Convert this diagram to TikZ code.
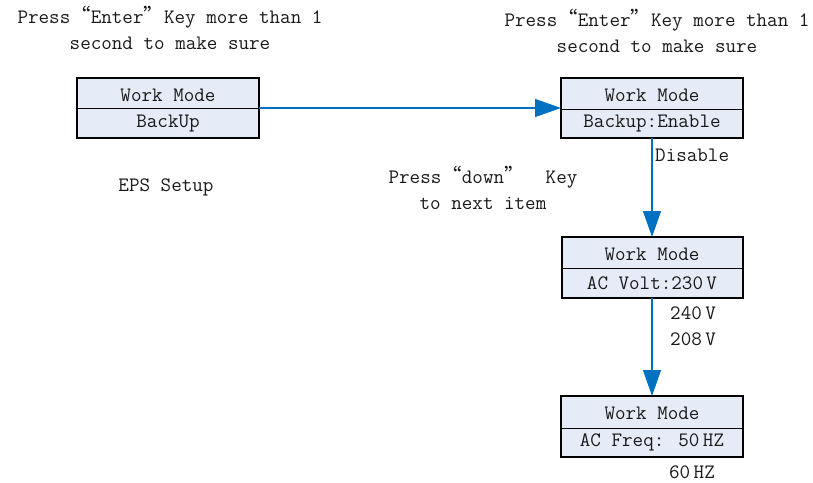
\documentclass[tikz,border=0pt]{standalone}
\usepackage{fontspec}
\newfontfamily\cjkq{Noto Sans CJK SC}
\usetikzlibrary{arrows.meta}
\definecolor{boxfill}{RGB}{230,236,247}
\definecolor{arrowblue}{RGB}{0,112,192}
\definecolor{txt}{RGB}{25,25,25}
\newcommand{\myLq}{{\cjkq “}}
\newcommand{\myRq}{{\cjkq ”}}
\begin{document}
\begin{tikzpicture}[x=1pt,y=-1pt,
  every node/.style={font=\fontsize{20.5}{26}\selectfont\ttfamily, text=txt, inner sep=0pt},
  panel/.style={draw=black, line width=1.6pt, fill=boxfill},
  divider/.style={draw=black, line width=0.9pt},
  flow/.style={draw=arrowblue, line width=1.3pt, -{Triangle[length=26pt,width=18pt]}},
  note/.style={align=center}
]
\useasboundingbox (0,0) rectangle (813,482);

% boxes
\path[panel] (77,78) rectangle (259,138);
\draw[divider] (77,108) -- (259,108);
\node (b1t) at (168,95) {Work Mode};
\node (b1b) at (168,124) {BackUp};
\coordinate (b1r) at (259,108);

\path[panel] (561,78) rectangle (743,138);
\draw[divider] (561,109) -- (743,109);
\node (b2t) at (652,95) {Work Mode};
\node (b2b) at (652,124) {Backup:Enable};
\coordinate (b2l) at (561,108);
\coordinate (b2s) at (652,138);

\path[panel] (562,237) rectangle (743,298);
\draw[divider] (562,268) -- (743,268);
\node (b3t) at (652,254) {Work Mode};
\node (b3b) at (652,283) {AC Volt:230\,V};
\coordinate (b3n) at (652,237);
\coordinate (b3s) at (652,298);

\path[panel] (561,396) rectangle (743,457);
\draw[divider] (561,428) -- (743,428);
\node (b4t) at (652,413) {Work Mode};
\node (b4b) at (652,442) {AC Freq: 50\,HZ};
\coordinate (b4n) at (652,396);

% connectors
\draw[flow] (b1r) -- (b2l);
\draw[flow] (b2s) -- (b3n);
\draw[flow] (b3s) -- (b4n);

% texts
\node[note] (t1) at (170,28) {Press\myLq Enter\myRq Key more than 1\\second to make sure};
\node[note] (t2) at (657,31) {Press\myLq Enter\myRq Key more than 1\\second to make sure};
\node (eps) at (166,187) {EPS Setup};
\node[note] (down) at (483,188) {Press\myLq down\myRq~ Key\\to next item};
\node[anchor=west] (dis) at (655,155) {Disable};
\node[anchor=west, align=left] (volts) at (670,326) {240\,V\\208\,V};
\node (hz) at (692,472) {60\,HZ};
\end{tikzpicture}
\end{document}
